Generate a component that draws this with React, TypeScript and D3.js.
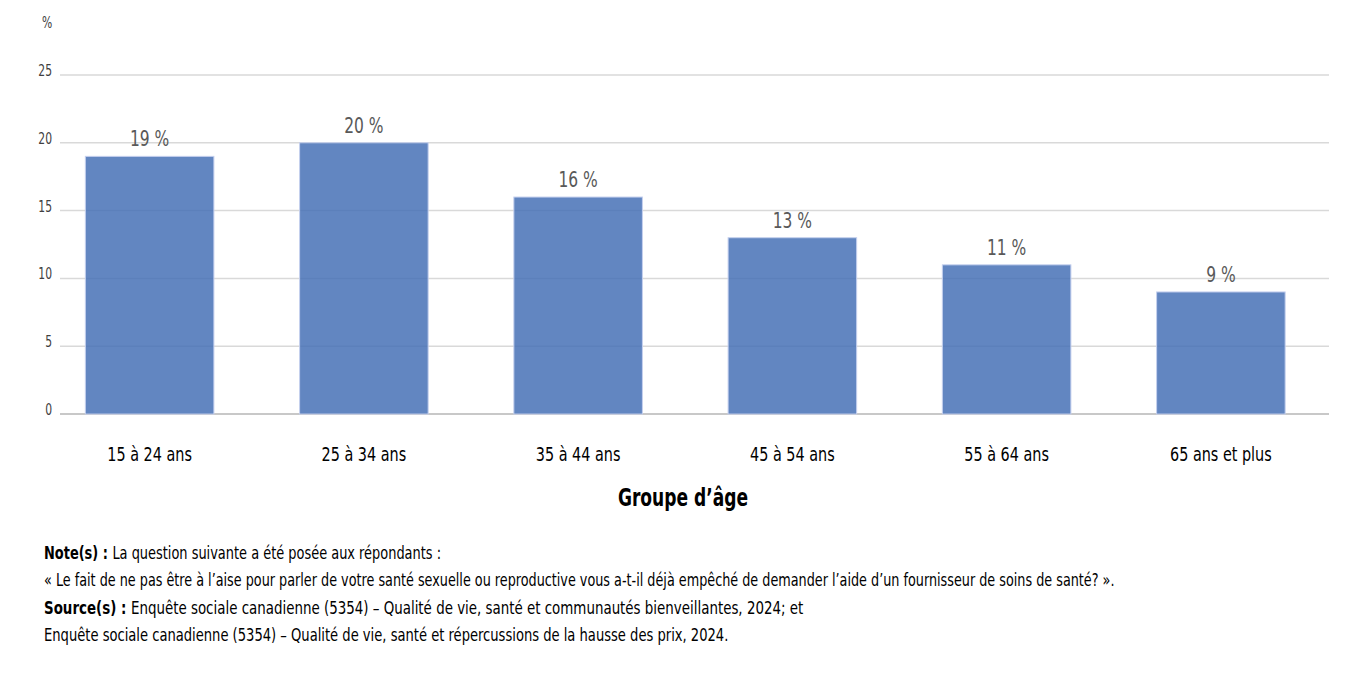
import React from 'react';
import * as d3 from 'd3';

const categories = ['15 à 24 ans', '25 à 34 ans', '35 à 44 ans', '45 à 54 ans', '55 à 64 ans', '65 ans et plus'];
const values = [19, 20, 16, 13, 11, 9];
const yTicks = [0, 5, 10, 15, 20, 25];

const FONT = '"DejaVu Sans Condensed", "Liberation Sans Narrow", "Roboto", sans-serif';

const W = 1366;
const H = 677;

// condensed text: DejaVu Condensed squeezed a bit more to get the narrow look
const CText: React.FC<{ x: number; y: number; sx?: number; anchor?: string; size: number; fill?: string; weight?: string; children: React.ReactNode }> =
  ({ x, y, sx = 0.8, anchor = 'start', size, fill = '#000', weight = 'normal', children }) => (
    <text transform={`translate(${x},${y}) scale(${sx},1)`} textAnchor={anchor} fontSize={size} fill={fill} fontWeight={weight}>
      {children}
    </text>
  );

const App: React.FC = () => {
  const x = d3.scaleBand<string>().domain(categories).range([42.5, 1328]).paddingInner(0.4).paddingOuter(0.2);
  const y = d3.scaleLinear().domain([0, 25]).range([414, 75]);
  const gridX1 = 60;
  const gridX2 = 1329;

  return (
    <svg width={W} height={H} style={{ position: 'absolute', left: 0, top: 0, background: '#fff' }} fontFamily={FONT}>
      <CText x={47} y={28} anchor="middle" size={15} fill="#404040">%</CText>
      {yTicks.map(t => (
        <g key={t}>
          <line x1={gridX1} x2={gridX2} y1={y(t)} y2={y(t)} stroke={t === 0 ? '#c8c8c8' : '#d9d9d9'} strokeWidth={t === 0 ? 2 : 1.5} />
          <CText x={52} y={y(t) + 1} anchor="end" size={15} fill="#404040">{t}</CText>
        </g>
      ))}
      {categories.map((c, i) => {
        const cx = (x(c) ?? 0) + x.bandwidth() / 2;
        return (
          <g key={c}>
            <rect x={x(c)} y={y(values[i])} width={x.bandwidth()} height={y(0) - y(values[i])}
              fill="#446fb5" fillOpacity={0.84} stroke="#c5d0ee" strokeWidth={1} />
            <CText x={cx} y={y(values[i]) - 10} anchor="middle" size={21} sx={0.82} fill="#595959">
              {values[i]} %
            </CText>
            <CText x={cx} y={461} anchor="middle" size={20}>{c}</CText>
          </g>
        );
      })}
      <CText x={683} y={506} anchor="middle" size={25} sx={0.76} weight="bold">Groupe d’âge</CText>

      <CText x={44} y={559} size={18}><tspan fontWeight="bold">Note(s) : </tspan>La question suivante a été posée aux répondants :</CText>
      <CText x={44} y={586} size={18} sx={0.79}>« Le fait de ne pas être à l’aise pour parler de votre santé sexuelle ou reproductive vous a-t-il déjà empêché de demander l’aide d’un fournisseur de soins de santé? ».</CText>
      <CText x={44} y={614} size={18} sx={0.828}><tspan fontWeight="bold">Source(s) : </tspan>Enquête sociale canadienne (5354) – Qualité de vie, santé et communautés bienveillantes, 2024; et</CText>
      <CText x={44} y={641} size={18} sx={0.81}>Enquête sociale canadienne (5354) – Qualité de vie, santé et répercussions de la hausse des prix, 2024.</CText>
    </svg>
  );
};

export default App;
